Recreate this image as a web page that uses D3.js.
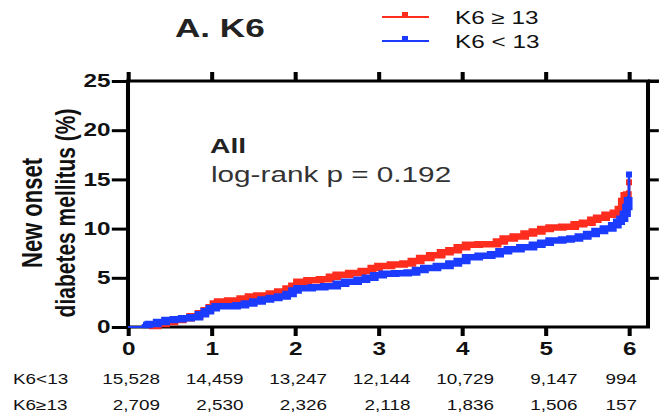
<!DOCTYPE html>
<html>
<head>
<meta charset="utf-8">
<script src="https://cdn.jsdelivr.net/npm/d3@7/dist/d3.min.js"></script>
<style>
    body { margin: 0; background: #fff; }
    svg { display: block; font-family: Arial, "Liberation Sans", sans-serif; }
</style>
</head>
<body>
<div id="chart"></div>
<script>
// values
const years = [0, 1, 2, 3, 4, 5, 6];
const yTicks = [0, 5, 10, 15, 20, 25];

// K6 >= 13 (red), cumulative incidence %
const highTimes = [0, 0.25, 0.35, 0.45, 0.55, 0.65, 0.75, 0.85, 0.92, 0.98, 1.03, 1.08, 1.2, 1.35, 1.45, 1.55, 1.7, 1.8, 1.9, 1.97,
    2.03, 2.15, 2.3, 2.42, 2.5, 2.65, 2.8, 2.92, 3.0, 3.15, 3.3, 3.4, 3.5, 3.62, 3.75, 3.85, 3.95, 4.05, 4.2, 4.35,
    4.42, 4.5, 4.62, 4.75, 4.85, 4.95, 5.05, 5.2, 5.35, 5.45, 5.55, 5.62, 5.72, 5.82, 5.88, 5.92, 5.95, 5.98, 6.0];
const highPct = [0, 0.1, 0.3, 0.5, 0.7, 0.9, 1.1, 1.4, 1.7, 2.0, 2.4, 2.6, 2.7, 2.9, 3.1, 3.2, 3.4, 3.6, 3.9, 4.2,
    4.6, 4.75, 4.85, 5.1, 5.3, 5.5, 5.7, 6.0, 6.2, 6.35, 6.45, 6.7, 7.0, 7.3, 7.6, 7.8, 8.1, 8.35, 8.4, 8.4,
    8.7, 9.0, 9.2, 9.5, 9.7, 9.95, 10.1, 10.2, 10.45, 10.6, 10.9, 11.1, 11.4, 11.6, 12.0, 12.8, 13.4, 13.8, 14.7];

// K6 < 13 (blue)
const lowTimes = [0, 0.18, 0.25, 0.35, 0.45, 0.55, 0.65, 0.75, 0.85, 0.92, 0.98, 1.05, 1.15, 1.3, 1.4, 1.5, 1.6, 1.7, 1.8, 1.9,
    1.97, 2.03, 2.2, 2.35, 2.5, 2.6, 2.75, 2.85, 2.95, 3.05, 3.2, 3.35, 3.45, 3.55, 3.7, 3.85, 3.95, 4.05, 4.2, 4.35,
    4.45, 4.55, 4.7, 4.85, 4.95, 5.05, 5.2, 5.3, 5.4, 5.5, 5.6, 5.7, 5.8, 5.86, 5.9, 5.94, 5.97, 5.99, 6.0];
const lowPct = [0, 0.2, 0.3, 0.5, 0.7, 0.8, 0.9, 1.0, 1.3, 1.6, 1.9, 2.1, 2.1, 2.2, 2.4, 2.6, 2.8, 2.95, 3.1, 3.35,
    3.7, 3.95, 4.05, 4.15, 4.4, 4.6, 4.8, 5.0, 5.25, 5.4, 5.45, 5.55, 5.8, 6.0, 6.2, 6.45, 6.7, 7.1, 7.25, 7.4,
    7.7, 7.9, 8.1, 8.35, 8.55, 8.8, 8.9, 9.0, 9.2, 9.45, 9.75, 10.0, 10.35, 10.7, 11.0, 11.5, 12.2, 13.2, 15.5];

const riskLabels = ["K6<13", "K6\u226513"];
const riskLow = ["15,528", "14,459", "13,247", "12,144", "10,729", "9,147", "994"];
const riskHigh = ["2,709", "2,530", "2,326", "2,118", "1,836", "1,506", "157"];
const legendLabels = ["K6 \u2265 13", "K6 < 13"];

const RED = "#ff2d1e";
const BLUE = "#1b3cff";

class KMChart {

    constructor(el)
    {
        // the reference is stretched sideways, so draw everything in a squeezed space
        this.sx = 1.35;
        this.width = 659;
        this.height = 418;
        this.svg = d3.select(el).append("svg")
            .attr("width", this.width)
            .attr("height", this.height);
        this.g = this.svg.append("g").attr("transform", `scale(${this.sx},1)`);

        this.left = 128 / this.sx;
        this.right = 648 / this.sx;
        this.top = 81;
        this.bottom = 327;

        this.x = d3.scaleLinear().domain([0, 6]).range([this.left, 629 / this.sx]);
        this.y = d3.scaleLinear().domain([0, 25]).range([this.bottom, this.top]);
    }

    px(v)
    {
        return v / this.sx;
    }

    drawAxes()
    {
        let g = this.g;
        let fmt = d3.format("d");

        g.append("rect")
            .attr("x", this.left)
            .attr("y", this.top)
            .attr("width", this.right - this.left)
            .attr("height", this.bottom - this.top)
            .attr("fill", "none")
            .attr("stroke", "#000")
            .attr("stroke-width", 3);

        // top border runs on past the right border
        g.append("line")
            .attr("x1", this.right).attr("x2", this.px(659))
            .attr("y1", this.top).attr("y2", this.top)
            .attr("stroke", "#000")
            .attr("stroke-width", 3);

        let bottom = g.append("g")
            .attr("transform", `translate(0,${this.bottom})`)
            .call(d3.axisBottom(this.x).tickValues(years).tickFormat(fmt).tickSize(9).tickSizeOuter(0).tickPadding(6));

        let leftAx = g.append("g")
            .attr("transform", `translate(${this.left},0)`)
            .call(d3.axisLeft(this.y).tickValues(yTicks).tickFormat(fmt).tickSize(12).tickSizeOuter(0).tickPadding(1));

        let topAx = g.append("g")
            .attr("transform", `translate(0,${this.top})`)
            .call(d3.axisTop(this.x).tickValues(years).tickSize(9).tickSizeOuter(0).tickFormat(""));

        let rightAx = g.append("g")
            .attr("transform", `translate(${this.right},0)`)
            .call(d3.axisRight(this.y).tickValues(yTicks.slice(1)).tickSize(8).tickSizeOuter(0).tickFormat(""));

        [bottom, leftAx, topAx, rightAx].forEach(a => {
            a.attr("font-family", null).attr("font-size", null);
            a.select(".domain").remove();
            a.selectAll(".tick line").style("stroke", "#000").style("stroke-width", "3px");
            a.selectAll(".tick text")
                .attr("fill", "#111")
                .style("font-family", "Arial, 'Liberation Sans', sans-serif")
                .style("font-size", "18px")
                .style("font-weight", "bold");
        });

        // y title, two lines
        let titles = ["New onset", "diabetes mellitus (%)"];
        let baseX = [42, 75];
        let sizes = ["22px", "21px"];
        titles.forEach((t, i) => {
            g.append("text")
                .attr("transform", `translate(${this.px(baseX[i])},213) rotate(-90)`)
                .attr("text-anchor", "middle")
                .attr("fill", "#111")
                .style("font-size", sizes[i])
                .style("font-weight", "bold")
                .text(t);
        });
    }

    drawCurve(times, pct, color)
    {
        let pts = times.map((t, i) => ({t: t, v: pct[i]}));
        let line = d3.line()
            .x(d => this.x(d.t))
            .y(d => this.y(d.v))
            .curve(d3.curveStepAfter);
        let n = pts.length;

        this.g.append("path")
            .attr("d", line(pts))
            .attr("fill", "none")
            .attr("stroke", color)
            .attr("stroke-width", 2);

        this.g.append("path")
            .attr("d", line(pts.slice(1, n - 1)))
            .attr("fill", "none")
            .attr("stroke", color)
            .attr("stroke-width", 6.5)
            .attr("stroke-linejoin", "miter");

        let last = pts[n - 1];
        this.g.append("rect")
            .attr("x", this.x(last.t) - this.px(3))
            .attr("y", this.y(last.v) - 3)
            .attr("width", this.px(6))
            .attr("height", 6)
            .attr("fill", color);
    }

    drawLegend()
    {
        let colors = [RED, BLUE];
        let ys = [17, 41];
        legendLabels.forEach((lab, i) => {
            this.g.append("line")
                .attr("x1", this.px(382)).attr("x2", this.px(429))
                .attr("y1", ys[i]).attr("y2", ys[i])
                .attr("stroke", colors[i])
                .attr("stroke-width", 2);
            this.g.append("rect")
                .attr("x", this.px(402))
                .attr("y", ys[i] - 5)
                .attr("width", this.px(6))
                .attr("height", 6)
                .attr("fill", colors[i]);
            this.g.append("text")
                .attr("x", this.px(455))
                .attr("y", ys[i] + 7)
                .attr("fill", "#111")
                .style("font-size", "18px")
                .text(lab);
        });
    }

    drawText()
    {
        this.g.append("text")
            .attr("x", this.px(175))
            .attr("y", 37)
            .attr("fill", "#222")
            .style("font-size", "26px")
            .style("font-weight", "bold")
            .text("A. K6");

        this.g.append("text")
            .attr("x", this.px(210))
            .attr("y", 153)
            .attr("fill", "#222")
            .style("font-size", "21px")
            .style("font-weight", "bold")
            .text("All");

        this.g.append("text")
            .attr("x", this.px(211))
            .attr("y", 182)
            .attr("fill", "#333")
            .style("font-size", "22px")
            .text("log-rank p = 0.192");
    }

    drawRiskTable()
    {
        let rows = [riskLow, riskHigh];
        let ys = [384, 410];
        rows.forEach((row, r) => {
            this.g.append("text")
                .attr("x", this.px(13))
                .attr("y", ys[r])
                .attr("fill", "#111")
                .style("font-size", "14px")
                .text(riskLabels[r]);

            this.g.selectAll(null)
                .data(row)
                .join("text")
                .attr("x", (d, i) => Math.min(this.x(years[i]) + this.px(32), this.px(637)))
                .attr("y", ys[r])
                .attr("text-anchor", "end")
                .attr("fill", "#111")
                .style("font-size", "14px")
                .text(d => d);
        });
    }
}

let chart = new KMChart("#chart");
chart.drawAxes();
chart.drawCurve(highTimes, highPct, RED);
chart.drawCurve(lowTimes, lowPct, BLUE);
chart.drawLegend();
chart.drawText();
chart.drawRiskTable();
</script>
</body>
</html>
